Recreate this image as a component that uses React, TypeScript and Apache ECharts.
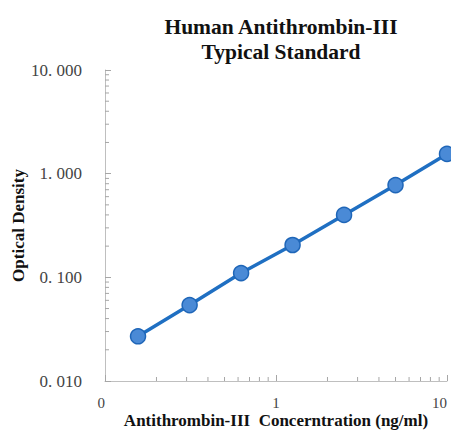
import React, { useEffect, useRef } from "react";
import * as echarts from "echarts";

const concentrations = [0.156, 0.3125, 0.625, 1.25, 2.5, 5, 10];
const opticalDensity = [0.027, 0.054, 0.11, 0.205, 0.4, 0.776, 1.55];
const xMinorTicks = [0.2, 0.3, 0.4, 0.5, 0.6, 0.7, 0.8, 0.9, 2, 3, 4, 5, 6, 7, 8, 9];
const yMinorTicks = [
  0.02, 0.03, 0.04, 0.05, 0.06, 0.07, 0.08, 0.09,
  0.2, 0.3, 0.4, 0.5, 0.6, 0.7, 0.8, 0.9,
  2, 3, 4, 5, 6, 7, 8, 9,
];
const xMin = 0.1, xMax = 10, yMin = 0.01, yMax = 10;

export default function App() {
  const ref = useRef<HTMLDivElement>(null);
  useEffect(() => {
    const chart = echarts.init(ref.current!, null, { renderer: "svg" });
    const tickColor = "#a6a6a6";
    chart.setOption({
      animation: false,
      title: {
        text: "Human Antithrombin-III\nTypical Standard",
        left: 276,
        top: 9,
        textAlign: "center",
        textStyle: {
          fontFamily: "Liberation Serif",
          fontWeight: "bold",
          fontSize: 21.5,
          lineHeight: 25,
          color: "#111",
        },
      },
      grid: { left: 105, right: 4, top: 70, bottom: 52, outerBoundsMode: "none", containLabel: false },
      xAxis: {
        type: "log",
        min: xMin,
        max: xMax,
        name: "Antithrombin-III  Concerntration (ng/ml)",
        nameLocation: "middle",
        nameGap: 31,
        nameMoveOverlap: false,
        nameTextStyle: {
          fontFamily: "Liberation Serif",
          fontWeight: "bold",
          fontSize: 17,
          lineHeight: 17,
          color: "#111",
        },
        axisLine: { lineStyle: { color: "#bfbfbf", width: 1 } },
        axisTick: { inside: true, length: 6, lineStyle: { color: tickColor } },
        splitLine: { show: false },
        axisLabel: {
          margin: 14,
          fontFamily: "Liberation Serif",
          fontSize: 15,
          lineHeight: 15,
          color: "#444",
          formatter: (v: number) => (v <= xMin * 1.0001 ? "0" : String(Math.round(v))),
          alignMaxLabel: "right",
          alignMinLabel: "right",
        },
      },
      yAxis: {
        type: "log",
        min: yMin,
        max: yMax,
        name: "Optical Density",
        nameLocation: "middle",
        nameGap: 78,
        nameMoveOverlap: false,
        nameTextStyle: {
          fontFamily: "Liberation Serif",
          fontWeight: "bold",
          fontSize: 17,
          color: "#111",
        },
        axisLine: { show: true, lineStyle: { color: "#bfbfbf", width: 1 } },
        axisTick: { show: true, inside: true, length: 6, lineStyle: { color: tickColor } },
        splitLine: { show: false },
        axisLabel: {
          margin: 23,
          fontFamily: "Liberation Serif",
          fontSize: 17,
          color: "#444",
          formatter: (v: number) => {
            const s = v.toFixed(3);
            const [a, b] = s.split(".");
            return a + ". " + b;
          },
        },
      },
      series: [
        {
          type: "line",
          data: concentrations.map((c, i) => [c, opticalDensity[i]]),
          symbol: "circle",
          symbolSize: 15,
          lineStyle: { color: "#1f6fc2", width: 3.5 },
          itemStyle: { color: "#4a8ad6", borderColor: "#1f66b8", borderWidth: 1.5 },
          clip: false,
          z: 5,
        },
        {
          type: "custom",
          data: xMinorTicks.map((v) => [v, yMin]),
          clip: false,
          silent: true,
          renderItem: (params: any, api: any) => {
            const p = api.coord([api.value(0), api.value(1)]);
            return {
              type: "line",
              shape: { x1: p[0], y1: p[1], x2: p[0], y2: p[1] - 4 },
              style: { stroke: tickColor, lineWidth: 1 },
            };
          },
        },
        {
          type: "custom",
          data: yMinorTicks.map((v) => [xMin, v]),
          clip: false,
          silent: true,
          renderItem: (params: any, api: any) => {
            const p = api.coord([api.value(0), api.value(1)]);
            return {
              type: "line",
              shape: { x1: p[0], y1: p[1], x2: p[0] + 4, y2: p[1] },
              style: { stroke: tickColor, lineWidth: 1 },
            };
          },
        },
      ],
    });
    return () => chart.dispose();
  }, []);
  return <div ref={ref} style={{ width: 451, height: 433, position: "absolute", left: 0, top: 0 }} />;
}
